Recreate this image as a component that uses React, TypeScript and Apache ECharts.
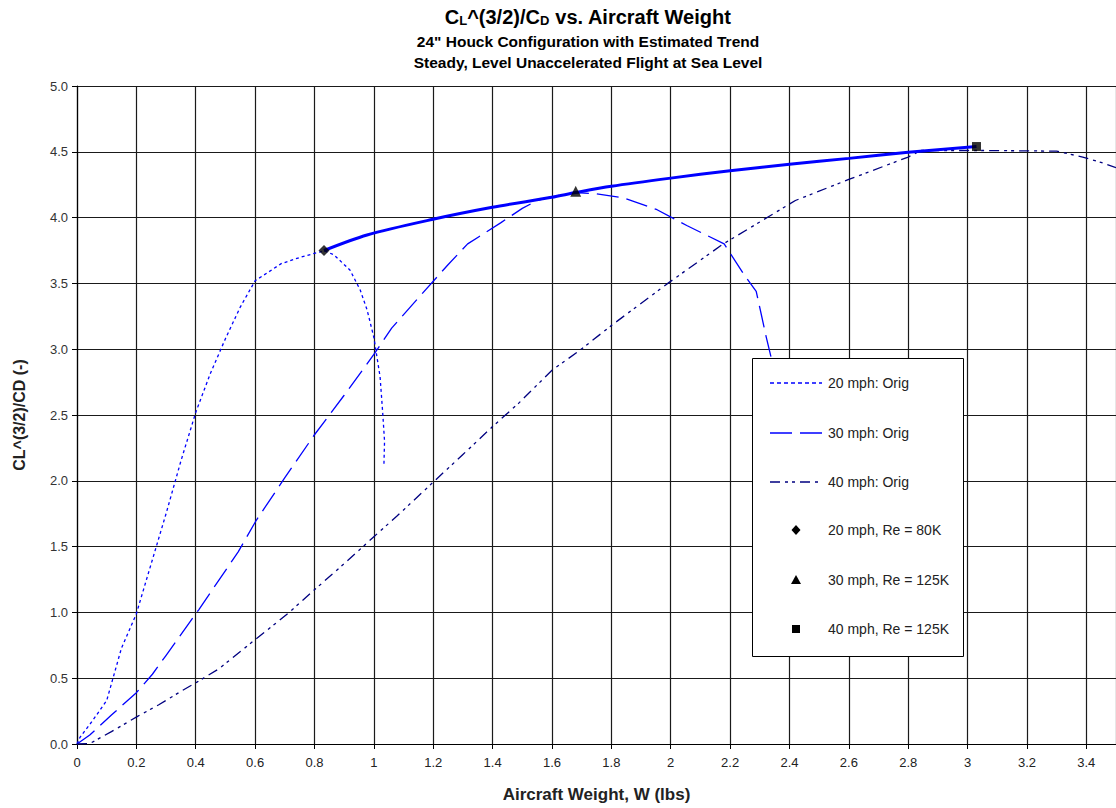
import React, { useEffect, useRef } from "react";
import * as echarts from "echarts";

// ---- Data ----
const titleLines = [
  "24\" Houck Configuration with Estimated Trend",
  "Steady, Level Unaccelerated Flight at Sea Level",
];
const xAxisName = "Aircraft Weight, W (lbs)";
const yAxisName = "CL^(3/2)/CD (-)";

const seriesNames = [
  "20 mph: Orig",
  "30 mph: Orig",
  "40 mph: Orig",
  "20 mph, Re = 80K",
  "30 mph, Re = 125K",
  "40 mph, Re = 125K",
];
const trendName = "Estimated Trend";

const orig20: [number, number][] = [
  [0, 0], [0.01, 0.05], [0.05, 0.17], [0.1, 0.33], [0.15, 0.73], [0.2, 0.99],
  [0.25, 1.37], [0.3, 1.75], [0.35, 2.15], [0.4, 2.52], [0.45, 2.82], [0.5, 3.08],
  [0.55, 3.32], [0.6, 3.52], [0.688, 3.65], [0.754, 3.7], [0.82, 3.74], [0.832, 3.75],
  [0.866, 3.716], [0.92, 3.6], [0.954, 3.45], [0.977, 3.3], [1.0, 3.09], [1.021, 2.79],
  [1.03, 2.51], [1.036, 2.3], [1.034, 2.13],
];

const orig30: [number, number][] = [
  [0, 0], [0.043, 0.068], [0.116, 0.22], [0.2, 0.39], [0.254, 0.53], [0.299, 0.67],
  [0.377, 0.917], [0.41, 1.02], [0.543, 1.46], [0.604, 1.7], [0.699, 2.02], [0.8, 2.35],
  [0.9, 2.65], [1.0, 2.96], [1.06, 3.16], [1.154, 3.4], [1.249, 3.64], [1.316, 3.8],
  [1.354, 3.855], [1.427, 3.96], [1.5, 4.07], [1.55, 4.13], [1.6, 4.16], [1.68, 4.19],
  [1.75, 4.18], [1.84, 4.15], [1.954, 4.06], [2.054, 3.94], [2.18, 3.8], [2.249, 3.56],
  [2.288, 3.44], [2.321, 3.1], [2.338, 2.94], [2.35, 2.8],
];

const orig40: [number, number][] = [
  [0, 0], [0.043, 0.003], [0.116, 0.094], [0.204, 0.21], [0.277, 0.3], [0.35, 0.4],
  [0.404, 0.47], [0.477, 0.57], [0.604, 0.8], [0.71, 0.99], [0.799, 1.17], [0.9, 1.37],
  [1.0, 1.575], [1.077, 1.73], [1.2, 1.99], [1.3, 2.2], [1.399, 2.41], [1.488, 2.59],
  [1.6, 2.84], [1.693, 2.99], [1.8, 3.18], [1.99, 3.5], [2.177, 3.8], [2.332, 4.01],
  [2.42, 4.13], [2.6, 4.29], [2.8, 4.46], [2.843, 4.51], [3.05, 4.51], [3.3, 4.505],
  [3.388, 4.46], [3.449, 4.42], [3.5, 4.38],
];

const trend: [number, number][] = [
  [0.832, 3.75], [0.977, 3.868], [1.199, 3.987], [1.399, 4.078], [1.599, 4.154],
  [1.68, 4.19], [1.8, 4.238], [2.0, 4.3], [2.2, 4.356], [2.4, 4.405], [2.6, 4.45],
  [2.8, 4.496], [3.03, 4.54],
];

const pt20: [number, number][] = [[0.832, 3.75]];
const pt30: [number, number][] = [[1.68, 4.2]];
const pt40: [number, number][] = [[3.03, 4.54]];

const X_MIN = 0;
const X_MAX = 3.5;
const X_STEP = 0.2;
const Y_MIN = 0;
const Y_MAX = 5;
const Y_STEP = 0.5;

const COLOR_20 = "#0000ff";
const COLOR_30 = "#0000ff";
const COLOR_40 = "#000080";
const DASH_20 = [3, 3];
const DASH_30 = [22, 8];
const DASH_40 = [10, 5, 3, 4, 3, 5];

export default function App() {
  const ref = useRef<HTMLDivElement>(null);

  useEffect(() => {
    if (!ref.current) return;
    const chart = echarts.init(ref.current, null, { renderer: "svg" });
    const gridColor = "#1a1a1a";
    const font = "Arial, 'Liberation Sans', sans-serif";

    // legend drawn as graphic elements (box, samples, texts)
    const LX = 752, LY = 358, LW = 211, LH = 298;
    const rowY = [383, 433, 482, 530, 580, 629];
    const sx1 = 770, sx2 = 822, sc = 796, tx = 828;
    const Z = 100;
    const legendEls: any[] = [
      {
        type: "rect",
        z: Z,
        shape: { x: LX + 0.5, y: LY + 0.5, width: LW, height: LH },
        style: { fill: "#fff", stroke: "#000", lineWidth: 1 },
      },
      {
        type: "line", z: Z + 1,
        shape: { x1: sx1, y1: rowY[0], x2: sx2, y2: rowY[0] },
        style: { stroke: COLOR_20, lineWidth: 1.5, lineDash: [4, 3] },
      },
      {
        type: "line", z: Z + 1,
        shape: { x1: sx1, y1: rowY[1], x2: sx2, y2: rowY[1] },
        style: { stroke: COLOR_30, lineWidth: 1.5, lineDash: DASH_30 },
      },
      {
        type: "line", z: Z + 1,
        shape: { x1: sx1, y1: rowY[2], x2: sx2, y2: rowY[2] },
        style: { stroke: COLOR_40, lineWidth: 1.5, lineDash: DASH_40 },
      },
      {
        type: "polygon", z: Z + 1,
        shape: { points: [[sc, rowY[3] - 5], [sc + 4.5, rowY[3]], [sc, rowY[3] + 5], [sc - 4.5, rowY[3]]] },
        style: { fill: "#000" },
      },
      {
        type: "polygon", z: Z + 1,
        shape: { points: [[sc, rowY[4] - 5], [sc + 5, rowY[4] + 4], [sc - 5, rowY[4] + 4]] },
        style: { fill: "#000" },
      },
      {
        type: "rect", z: Z + 1,
        shape: { x: sc - 4, y: rowY[5] - 4, width: 8, height: 8 },
        style: { fill: "#000" },
      },
    ];
    seriesNames.forEach((name, i) => {
      legendEls.push({
        type: "text",
        z: Z + 1,
        x: tx,
        y: rowY[i],
        style: {
          text: name,
          align: "left",
          verticalAlign: "middle",
          fill: "#222",
          font: `14px ${font}`,
        },
      });
    });

    chart.setOption({
      animation: false,
      backgroundColor: "#ffffff",
      grid: { left: 77, top: 86, bottom: 64, right: -9, containLabel: false },
      graphic: [
        {
          type: "text",
          x: 588,
          y: 17,
          style: {
            text: "{m|C}{s|L}{m|^(3/2)/C}{s|D}{m| vs. Aircraft Weight}",
            align: "center",
            verticalAlign: "middle",
            fill: "#000",
            rich: {
              m: { fontSize: 20, fontWeight: "bold", fontFamily: font, fill: "#000", verticalAlign: "bottom" },
              s: { fontSize: 13, fontWeight: "bold", fontFamily: font, fill: "#000", verticalAlign: "bottom" },
            },
          },
        },
        {
          type: "text",
          x: 588,
          y: 41,
          style: {
            text: titleLines[0],
            align: "center",
            verticalAlign: "middle",
            fill: "#000",
            font: `bold 15.5px ${font}`,
          },
        },
        {
          type: "text",
          x: 588,
          y: 62,
          style: {
            text: titleLines[1],
            align: "center",
            verticalAlign: "middle",
            fill: "#000",
            font: `bold 15.5px ${font}`,
          },
        },
        ...legendEls,
      ],
      legend: { show: false, data: seriesNames },
      xAxis: {
        type: "value",
        min: X_MIN,
        max: X_MAX,
        interval: X_STEP,
        name: xAxisName,
        nameLocation: "middle",
        nameGap: 42,
        nameTextStyle: { fontSize: 17, fontWeight: "bold", color: "#222", fontFamily: font },
        axisLine: { show: true, onZero: false, lineStyle: { color: "#000", width: 1.2 } },
        axisTick: { show: true, length: 5, inside: false, lineStyle: { color: "#000" } },
        axisLabel: {
          margin: 12,
          fontSize: 13,
          color: "#222",
          fontFamily: "'Liberation Sans Narrow', 'Arial Narrow', Arial, sans-serif",
          showMaxLabel: false,
        },
        splitLine: { show: true, lineStyle: { color: gridColor, width: 1.2 } },
      },
      yAxis: {
        type: "value",
        min: Y_MIN,
        max: Y_MAX,
        interval: Y_STEP,
        name: yAxisName,
        nameLocation: "middle",
        nameGap: 50,
        nameTextStyle: { fontSize: 16, fontWeight: "bold", color: "#222", fontFamily: font },
        axisLine: { show: true, onZero: false, lineStyle: { color: "#000", width: 1.2 } },
        axisTick: { show: true, length: 5, inside: false, lineStyle: { color: "#000" } },
        axisLabel: {
          margin: 9,
          fontSize: 13,
          color: "#333",
          fontFamily: font,
          formatter: (v: number) => v.toFixed(1),
        },
        splitLine: { show: true, lineStyle: { color: gridColor, width: 1.2 } },
      },
      series: [
        {
          name: seriesNames[0],
          type: "line",
          data: orig20,
          symbol: "none",
          showSymbol: false,
          z: 3,
          lineStyle: { color: COLOR_20, width: 1.3, type: DASH_20 },
          itemStyle: { color: COLOR_20 },
        },
        {
          name: seriesNames[1],
          type: "line",
          data: orig30,
          symbol: "none",
          showSymbol: false,
          z: 3,
          lineStyle: { color: COLOR_30, width: 1.3, type: DASH_30 },
          itemStyle: { color: COLOR_30 },
        },
        {
          name: seriesNames[2],
          type: "line",
          data: orig40,
          symbol: "none",
          showSymbol: false,
          z: 3,
          lineStyle: { color: COLOR_40, width: 1.3, type: DASH_40 },
          itemStyle: { color: COLOR_40 },
        },
        {
          name: trendName,
          type: "line",
          data: trend,
          symbol: "none",
          showSymbol: false,
          smooth: 0.3,
          z: 4,
          lineStyle: { color: "#0000ff", width: 3 },
          itemStyle: { color: "#0000ff" },
        },
        {
          name: seriesNames[3],
          type: "scatter",
          data: pt20,
          symbol: "diamond",
          symbolSize: 11,
          z: 5,
          itemStyle: { color: "#000" },
        },
        {
          name: seriesNames[4],
          type: "scatter",
          data: pt30,
          symbol: "triangle",
          symbolSize: 11,
          z: 5,
          itemStyle: { color: "#000" },
        },
        {
          name: seriesNames[5],
          type: "scatter",
          data: pt40,
          symbol: "rect",
          symbolSize: 9,
          z: 5,
          itemStyle: { color: "#000" },
        },
      ],
    });

    return () => chart.dispose();
  }, []);

  return (
    <div
      ref={ref}
      style={{ position: "absolute", left: 0, top: 0, width: 1116, height: 808, background: "#fff" }}
    />
  );
}
